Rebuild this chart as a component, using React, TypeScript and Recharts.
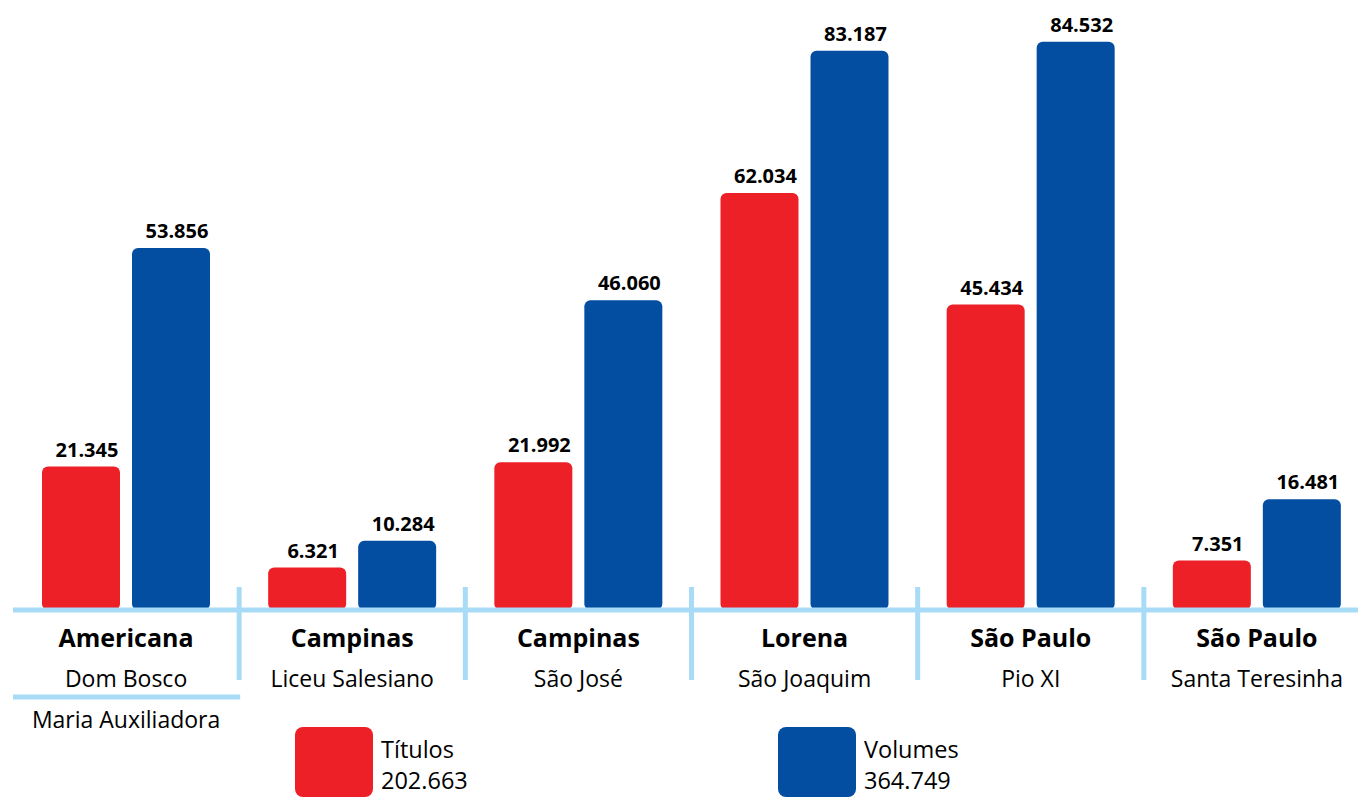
import React from 'react';
import { BarChart, Bar, XAxis, YAxis, LabelList, Legend } from 'recharts';

const cities = ['Americana', 'Campinas', 'Campinas', 'Lorena', 'São Paulo', 'São Paulo'];
const schools = ['Dom Bosco', 'Liceu Salesiano', 'São José', 'São Joaquim', 'Pio XI', 'Santa Teresinha'];
const extraLine = ['Maria Auxiliadora', '', '', '', '', ''];
const titulos = [21345, 6321, 21992, 62034, 45434, 7351];
const volumes = [53856, 10284, 46060, 83187, 84532, 16481];
const seriesNames = ['Títulos', 'Volumes'];
const seriesTotals = ['202.663', '364.749'];

const RED = '#ED1F27';
const BLUE = '#044EA2';
const LIGHT = '#A8DCF6';
const FONT = '"Open Sans", "Noto Sans", sans-serif';

const CHART_W = 1370;
const CHART_H = 800;
const MARGIN = { top: 5, right: 0, bottom: 0, left: 13 };
const PLOT_W = CHART_W - MARGIN.left - MARGIN.right;
const BAND = PLOT_W / cities.length;

const data = cities.map((c, i) => ({
  id: i,
  city: c,
  school: schools[i],
  titulos: titulos[i],
  volumes: volumes[i],
}));

const fmt = (v: number) => String(v).replace(/\B(?=(\d{3})+(?!\d))/g, '.');

const ValueLabel = (props: any) => {
  const { x, y, width, value } = props;
  return (
    <text
      x={Number(x) + Number(width) / 2 + 6}
      y={Number(y) - 10}
      textAnchor="middle"
      fontFamily={FONT}
      fontWeight="bold"
      fontSize={20}
      fill="#000"
    >
      {fmt(Number(value))}
    </text>
  );
};

const CategoryTick = (props: any) => {
  const { x, y, payload } = props;
  const i = Number(payload.value);
  const half = BAND / 2;
  return (
    <g>
      <text x={x} y={y + 37} textAnchor="middle" fontFamily={FONT} fontWeight="bold" fontSize={25} fill="#000">
        {cities[i]}
      </text>
      <text x={x} y={y + 77} textAnchor="middle" fontFamily={FONT} fontSize={23} fill="#000">
        {schools[i]}
      </text>
      {i < cities.length - 1 && (
        <line x1={x + half} x2={x + half} y1={y - 23} y2={y + 70} stroke={LIGHT} strokeWidth={5} />
      )}
      {extraLine[i] && (
        <>
          <line x1={x - half} x2={x + half + 1} y1={y + 87} y2={y + 87} stroke={LIGHT} strokeWidth={5} />
          <text x={x} y={y + 118} textAnchor="middle" fontFamily={FONT} fontSize={23} fill="#000">
            {extraLine[i]}
          </text>
        </>
      )}
    </g>
  );
};

const LegendContent = () => {
  const items = [
    { color: RED, name: seriesNames[0], total: seriesTotals[0], left: 295 },
    { color: BLUE, name: seriesNames[1], total: seriesTotals[1], left: 778 },
  ];
  const txt = {
    position: 'absolute' as const,
    fontFamily: FONT,
    fontSize: 23.5,
    lineHeight: 1,
    color: '#000',
    whiteSpace: 'nowrap' as const,
  };
  return (
    <div style={{ position: 'relative', width: 1358, height: 800, pointerEvents: 'none' }}>
      {items.map((it) => (
        <div key={it.name}>
          <div
            style={{
              position: 'absolute',
              left: it.left,
              top: 727,
              width: 78,
              height: 70,
              background: it.color,
              borderRadius: 8,
            }}
          />
          <div style={{ ...txt, left: it.left + 86, top: 738 }}>{it.name}</div>
          <div style={{ ...txt, left: it.left + 86, top: 769 }}>{it.total}</div>
        </div>
      ))}
    </div>
  );
};

export default function App() {
  return (
    <div
      style={{
        position: 'absolute',
        left: 0,
        top: 0,
        width: 1358,
        height: 800,
        overflow: 'hidden',
        background: '#fff',
      }}
    >
      <BarChart width={CHART_W} height={CHART_H} data={data} margin={MARGIN} barGap={12}>
        <XAxis
          dataKey="id"
          type="category"
          interval={0}
          height={190}
          tickSize={0}
          tickMargin={0}
          tickLine={false}
          axisLine={{ stroke: LIGHT, strokeWidth: 5 }}
          tick={<CategoryTick />}
        />
        <YAxis hide domain={[0, 90000]} />
        <Legend
          layout="vertical"
          align="center"
          verticalAlign="middle"
          wrapperStyle={{ left: 0, top: 0, width: 1358, height: 800, margin: 0 }}
          content={<LegendContent />}
        />
        <Bar dataKey="titulos" name={seriesNames[0]} fill={RED} barSize={78} radius={6} isAnimationActive={false}>
          <LabelList dataKey="titulos" content={<ValueLabel />} />
        </Bar>
        <Bar dataKey="volumes" name={seriesNames[1]} fill={BLUE} barSize={78} radius={6} isAnimationActive={false}>
          <LabelList dataKey="volumes" content={<ValueLabel />} />
        </Bar>
      </BarChart>
    </div>
  );
}
